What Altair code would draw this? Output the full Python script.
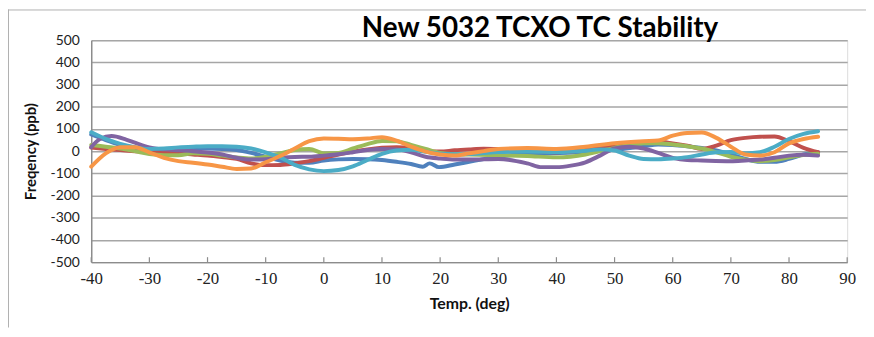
import altair as alt
import pandas as pd

# ---- data (temperature in deg C, frequency in ppb) ----
series_names = ["S1", "S2", "S3", "S4", "S5", "S6"]
series_colors = ["#4F81BD", "#C0504D", "#9BBB59", "#8064A2", "#4BACC6", "#F79646"]
chart_title = "New 5032 TCXO TC Stability"

blue_t = [-40, -37.5, -35, -32.5, -30, -27.5, -25, -22.5, -20, -17.5, -15, -12.5, -10, -7.5, -5, -2.5, 0, 2.5, 5, 7.5, 10, 12.5, 15, 17, 18.2, 19.8, 22.5, 25, 27.5, 30, 35, 40, 45, 50, 55, 57.5, 60, 62.5, 65, 67.5, 70, 72.5, 75, 77.5, 80, 82.5, 85]
blue_v = [75, 50, 28, 12, 5, 8, 10, 12, 12, 10, 5, -8, -25, -42, -52, -52, -42, -37, -35, -36, -40, -48, -58, -70, -55, -72, -60, -48, -36, -25, -12, -9, -4, 6, 22, 30, 28, 22, 14, 3, -15, -35, -48, -48, -35, -15, -5]

red_t = [-40, -37.5, -35, -32.5, -30, -27.5, -25, -22.5, -20, -17.5, -15, -12.5, -10, -7.5, -5, -2.5, 0, 2.5, 5, 7.5, 10, 12.5, 15, 17.5, 20, 22.5, 25, 27.5, 30, 35, 40, 45, 50, 55, 57.5, 60, 62.5, 65, 67.5, 70, 72.5, 75, 77.5, 80, 82.5, 85]
red_v = [16, 10, 5, 0, -4, -7, -10, -15, -20, -27, -35, -55, -63, -62, -55, -45, -30, -15, -2, 8, 15, 18, 14, 2, -2, 4, 8, 11, 10, 5, -5, 5, 25, 38, 42, 35, 25, 10, 25, 50, 60, 65, 66, 45, 15, -5]

green_t = [-40, -37.5, -35, -32.5, -30, -27.5, -25, -22.5, -20, -17.5, -15, -12.5, -10, -7.5, -5, -2.5, 0, 2.5, 5, 7.5, 10, 12.5, 15, 17.5, 20, 22.5, 25, 30, 35, 40, 45, 47.5, 50, 52.5, 55, 57.5, 60, 62.5, 65, 67.5, 70, 72.5, 75, 77.5, 80, 82.5, 85]
green_v = [28, 20, 12, 0, -13, -18, -18, -10, -12, -20, -28, -33, -25, -10, 5, 10, -10, -8, 12, 32, 46, 45, 28, 10, -8, -14, -15, -18, -22, -28, -15, 0, 15, 28, 35, 36, 30, 22, 12, -5, -25, -38, -45, -40, -28, -18, -12]

purple_t = [-40, -38.5, -36.5, -34, -32.5, -30, -27.5, -25, -22.5, -20, -17.5, -15, -12.5, -10, -7.5, -5, -2.5, 0, 2.5, 5, 7.5, 10, 12.5, 15, 17.5, 20, 22.5, 25, 30, 35, 37.5, 40, 42.5, 45, 47.5, 50, 52.5, 55, 57.5, 60, 62.5, 65, 70, 72.5, 75, 77.5, 80, 82.5, 85]
purple_v = [18, 55, 68, 52, 38, 17, 8, 4, 0, -6, -15, -30, -38, -36, -30, -26, -25, -20, -14, -5, 5, 10, 8, -5, -25, -33, -38, -38, -35, -55, -72, -72, -65, -50, -20, 12, 20, 12, -8, -30, -40, -42, -45, -42, -38, -30, -20, -16, -20]

cyan_t = [-40, -37.5, -35, -32.5, -30, -27.5, -25, -22.5, -20, -17.5, -15, -12.5, -10, -7.5, -5, -2.5, 0, 2.5, 5, 7.5, 10, 12.5, 15, 17.5, 20, 22.5, 25, 27.5, 30, 35, 40, 45, 47.5, 50, 52.5, 55, 57.5, 60, 62.5, 65, 67.5, 70, 72.5, 75, 77.5, 80, 82.5, 85]
cyan_v = [85, 55, 33, 18, 10, 12, 17, 20, 22, 22, 20, 12, -5, -28, -62, -82, -90, -85, -68, -40, -12, 3, 6, -3, -12, -14, -13, -8, -4, -2, -4, 2, 8, 3, -20, -35, -36, -33, -27, -15, -5, -4, -10, -5, 20, 55, 78, 90]

orange_t = [-40, -37.5, -35, -32.5, -30, -27.5, -25, -22.5, -20, -17.5, -15, -12.5, -10, -7.5, -5, -2.5, 0, 2.5, 5, 7.5, 10, 12.5, 15, 17.5, 20, 22.5, 25, 27.5, 30, 35, 40, 45, 50, 55, 57.5, 60, 62.5, 65, 67.5, 70, 72.5, 75, 77.5, 80, 82.5, 85]
orange_v = [-70, -10, 18, 18, -5, -30, -45, -52, -60, -70, -80, -78, -50, -22, 12, 45, 57, 56, 54, 57, 63, 47, 20, -2, -15, -20, -10, 0, 10, 14, 10, 20, 36, 45, 48, 70, 82, 84, 60, 20, -15, -20, -5, 35, 55, 65]

x_ticks = [-40, -30, -20, -10, 0, 10, 20, 30, 40, 50, 60, 70, 80, 90]
y_ticks = [-500, -400, -300, -200, -100, 0, 100, 200, 300, 400, 500]

# ---- build long table ----
all_t = [blue_t, red_t, green_t, purple_t, cyan_t, orange_t]
all_v = [blue_v, red_v, green_v, purple_v, cyan_v, orange_v]
rows = []
for name, ts, vs in zip(series_names, all_t, all_v):
    for t, v in zip(ts, vs):
        rows.append({"series": name, "temp": t, "ppb": v})
df = pd.DataFrame(rows)
ticks_df = pd.DataFrame({"temp": x_ticks})
one_df = pd.DataFrame({"k": [0]})

W, H = 763, 224

x_scale = alt.Scale(domain=[-40, 90], nice=False, zero=False)
y_scale = alt.Scale(domain=[-500, 500], nice=False)

lines = alt.Chart(df).mark_line(interpolate="monotone", strokeWidth=4, strokeCap="round").encode(
    x=alt.X("temp:Q", scale=x_scale,
            axis=alt.Axis(values=x_ticks, title="Temp. (deg)", grid=False, ticks=False,
                          labelFlush=False, labelExpr="'' + datum.value",
                          labelFont="Liberation Serif", labelFontSize=17, labelColor="#222222",
                          labelPadding=9, titleFont="Lato", titleFontSize=16, titleFontWeight="bold",
                          titleColor="#111111", titlePadding=9,
                          domainColor="#8c8c8c", domainWidth=1.5)),
    y=alt.Y("ppb:Q", scale=y_scale,
            axis=alt.Axis(values=y_ticks, title="Freqency (ppb)", grid=True, ticks=False,
                          gridColor="#a6a6a6", gridWidth=1.5, labelFlush=False,
                          labelExpr="'' + datum.value",
                          labelFont="Lato", labelFontSize=14, labelColor="#222222",
                          labelPadding=12, titleFont="Lato", titleFontSize=15, titleFontWeight="bold",
                          titleColor="#111111", titlePadding=12,
                          domainColor="#8c8c8c", domainWidth=1.5)),
    color=alt.Color("series:N", scale=alt.Scale(domain=series_names, range=series_colors), legend=None),
)

xticks = alt.Chart(ticks_df).mark_rule(color="#8c8c8c", strokeWidth=1.2).encode(
    x=alt.X("temp:Q", scale=x_scale),
    y=alt.value(H),
    y2=alt.value(H - 5),
)

title_text = alt.Chart(one_df).mark_text(
    font="Lato", fontSize=28, fontWeight="bold", color="#000000",
    align="center", baseline="alphabetic"
).encode(x=alt.value(453), y=alt.value(-3), text=alt.value(chart_title))

left_border = alt.Chart(one_df).mark_rule(color="#b0b0b0", strokeWidth=1).encode(
    x=alt.value(-83.5), y=alt.value(-31), y2=alt.value(H + 66)
)
top_border = alt.Chart(one_df).mark_rule(color="#b0b0b0", strokeWidth=1).encode(
    x=alt.value(-84), x2=alt.value(W + 19), y=alt.value(-30.5)
)

chart = alt.layer(xticks, lines, title_text, left_border, top_border).properties(
    width=W,
    height=H,
    autosize=alt.AutoSizeParams(type="none"),
    padding={"left": 84, "top": 31, "right": 19, "bottom": 66},
).configure_view(stroke=None).configure(background="white")

chart.save("out.html", embed_options={"renderer": "svg", "actions": False})
